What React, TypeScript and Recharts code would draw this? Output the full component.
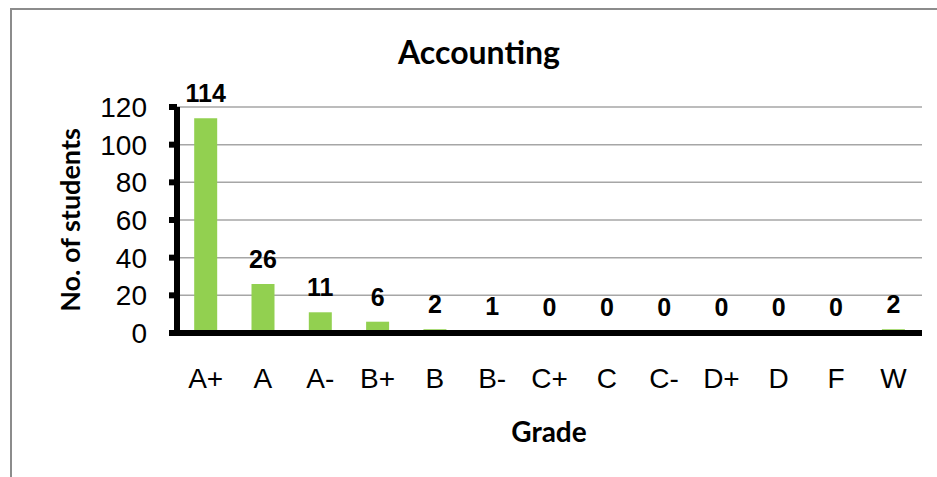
import {Bar, BarChart, CartesianGrid, LabelList, XAxis, YAxis} from 'recharts';

const grades = ['A+', 'A', 'A-', 'B+', 'B', 'B-', 'C+', 'C', 'C-', 'D+', 'D', 'F', 'W'];
const students = [114, 26, 11, 6, 2, 1, 0, 0, 0, 0, 0, 0, 2];
const yTicks = [0, 20, 40, 60, 80, 100, 120];

const chartTitle = 'Accounting';
const yTitle = 'No. of students';
const xTitle = 'Grade';

const data = grades.map((grade, i) => ({grade, students: students[i]}));
// tick marks sit on the category boundaries
const boundaryTicks = grades.map((_, i) => i).concat(grades.length);

const arial = '"Liberation Sans", Arial, sans-serif';
const calibri = 'Lato, "Open Sans", sans-serif';

export default function App() {
  return (
    <div style={{position: 'absolute', left: 0, top: 0, width: 937, height: 477, overflow: 'hidden', background: '#fff'}}>
      <div
        style={{
          position: 'absolute',
          left: 10,
          top: 8,
          width: 960,
          height: 500,
          border: '2px solid #8c8c8c',
        }}
      ></div>
      <BarChart
        width={937}
        height={477}
        data={data}
        margin={{top: 107, right: 15, bottom: 74, left: 97}}
        barCategoryGap="30%"
        style={{position: 'absolute', left: 0, top: 0}}
      >
        <CartesianGrid vertical={false} stroke="#a6a6a6" strokeWidth={1.5} />
        <XAxis
          xAxisId="bounds"
          type="number"
          domain={[0, grades.length]}
          ticks={boundaryTicks}
          tick={false}
          tickSize={9}
          height={10}
          axisLine={{stroke: '#000', strokeWidth: 6}}
          tickLine={{stroke: '#000', strokeWidth: 6}}
        />
        <XAxis
          xAxisId="cat"
          dataKey="grade"
          height={60}
          axisLine={false}
          tickLine={false}
          tickSize={0}
          tickMargin={25}
          interval={0}
          tick={{fontSize: 28, fill: '#000', fontFamily: arial}}
        />
        <YAxis
          width={80}
          domain={[0, 120]}
          ticks={yTicks}
          interval={0}
          tickSize={8}
          tickMargin={22}
          axisLine={{stroke: '#000', strokeWidth: 6}}
          tickLine={{stroke: '#000', strokeWidth: 6}}
          tick={{fontSize: 28, fill: '#000', fontFamily: arial}}
        />
        <Bar dataKey="students" xAxisId="cat" fill="#92D050" minPointSize={1} isAnimationActive={false}>
          <LabelList
            dataKey="students"
            position="top"
            offset={16}
            style={{fontSize: 25, fontWeight: 'bold', fill: '#000', fontFamily: arial}}
          />
        </Bar>
      </BarChart>
      <svg width={937} height={477} style={{position: 'absolute', left: 0, top: 0, pointerEvents: 'none'}}>
        <text x={479} y={64} textAnchor="middle" fontFamily={calibri} fontWeight="bold" fontSize={32} fill="#000">
          {chartTitle}
        </text>
        <text
          x={0}
          y={0}
          transform="translate(80 220) rotate(-90)"
          textAnchor="middle"
          fontFamily={calibri}
          fontWeight="bold"
          fontSize={27}
          fill="#000"
        >
          {yTitle}
        </text>
        <text x={549} y={442} textAnchor="middle" fontFamily={calibri} fontWeight="bold" fontSize={28} fill="#000">
          {xTitle}
        </text>
      </svg>
    </div>
  );
}
